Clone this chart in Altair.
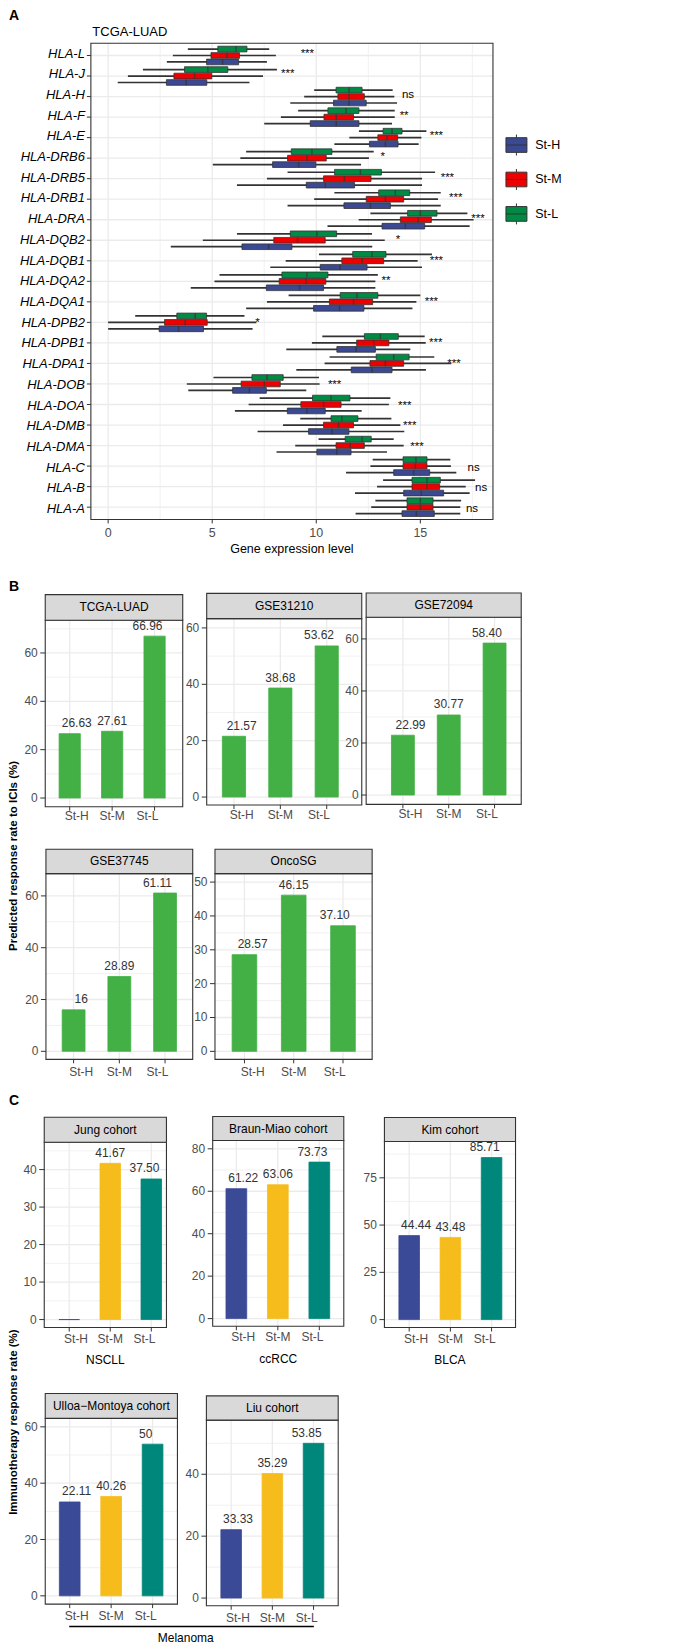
import altair as alt
import pandas as pd

FONT = "Liberation Sans"
GRID = "#EBEBEB"
DARK = "#333333"
AXT = "#4D4D4D"

# ---------------- Panel A data (TCGA-LUAD HLA expression) ----------------
genes = ["HLA-L", "HLA-J", "HLA-H", "HLA-F", "HLA-E", "HLA-DRB6", "HLA-DRB5", "HLA-DRB1",
         "HLA-DRA", "HLA-DQB2", "HLA-DQB1", "HLA-DQA2", "HLA-DQA1", "HLA-DPB2", "HLA-DPB1",
         "HLA-DPA1", "HLA-DOB", "HLA-DOA", "HLA-DMB", "HLA-DMA", "HLA-C", "HLA-B", "HLA-A"]
groups = ["St-H", "St-M", "St-L"]
box_colors = ["#3B4992", "#EE0000", "#008B45"]

sth_lo = [2.82, 0.46, 8.75, 7.50, 10.87, 5.03, 6.19, 8.62, 10.54, 3.01, 7.79, 3.97, 6.63, 0.00, 8.56, 9.04, 3.85, 6.09, 7.18, 8.09, 11.43, 11.86, 11.89]
sth_q1 = [4.73, 2.80, 10.83, 9.71, 12.56, 7.90, 9.52, 11.33, 13.16, 6.43, 10.19, 7.60, 9.87, 2.45, 10.99, 11.68, 5.98, 8.61, 9.63, 10.03, 13.72, 14.20, 14.12]
sth_med = [5.50, 3.75, 11.57, 10.96, 13.32, 9.15, 10.43, 12.60, 14.28, 7.71, 11.15, 9.20, 11.12, 3.38, 11.91, 12.68, 6.79, 9.55, 10.75, 10.99, 14.68, 15.05, 14.81]
sth_q3 = [6.27, 4.74, 12.40, 12.05, 13.93, 9.98, 11.84, 13.56, 15.21, 8.83, 12.44, 10.35, 12.29, 4.58, 12.84, 13.64, 7.60, 10.43, 11.57, 11.67, 15.45, 16.12, 15.67]
sth_hi = [7.63, 6.79, 13.88, 13.64, 14.92, 12.15, 15.08, 15.98, 17.37, 12.69, 15.08, 12.84, 14.62, 6.94, 14.52, 15.27, 9.52, 12.18, 14.23, 13.40, 16.73, 17.37, 16.92]

stm_lo = [3.11, 0.95, 9.42, 8.30, 11.59, 6.35, 7.63, 9.90, 12.04, 4.55, 8.53, 5.11, 7.63, 0.00, 9.79, 10.40, 3.78, 6.75, 8.40, 8.99, 12.60, 12.92, 12.64]
stm_q1 = [4.94, 3.16, 11.04, 10.37, 12.96, 8.62, 10.35, 12.40, 14.04, 7.96, 11.23, 8.22, 10.63, 2.71, 11.94, 12.58, 6.39, 9.26, 10.35, 10.95, 14.17, 14.60, 14.36]
stm_med = [5.71, 4.15, 11.57, 10.96, 13.40, 9.55, 11.35, 13.32, 14.89, 9.10, 12.20, 9.50, 11.79, 3.70, 12.76, 13.32, 7.50, 10.35, 11.07, 11.63, 14.76, 15.32, 15.00]
stm_q3 = [6.31, 4.98, 12.31, 11.79, 13.91, 10.48, 12.63, 14.20, 15.53, 10.43, 13.24, 10.46, 12.71, 4.76, 13.49, 14.20, 8.27, 11.19, 11.79, 12.31, 15.32, 15.93, 15.61]
stm_hi = [8.06, 7.44, 13.75, 13.77, 15.05, 12.53, 15.08, 15.85, 17.56, 13.29, 14.87, 12.84, 14.81, 7.12, 15.26, 16.49, 10.16, 13.49, 14.04, 14.20, 16.47, 17.18, 16.92]

stl_lo = [3.83, 1.67, 9.90, 9.13, 12.05, 6.63, 8.62, 10.87, 12.60, 6.19, 10.13, 5.35, 8.67, 1.30, 10.29, 10.64, 5.06, 7.28, 9.23, 10.11, 12.71, 13.21, 12.84]
stl_q1 = [5.27, 3.67, 10.95, 10.56, 13.21, 8.80, 10.88, 13.00, 14.39, 8.75, 11.75, 8.35, 11.15, 3.30, 12.31, 12.88, 6.91, 9.82, 10.71, 11.39, 14.17, 14.60, 14.36]
stl_med = [6.14, 4.79, 11.57, 11.43, 13.64, 9.79, 12.12, 13.80, 15.00, 10.03, 12.68, 9.55, 11.95, 4.18, 13.08, 13.72, 7.63, 10.71, 11.23, 12.20, 14.79, 15.32, 15.00]
stl_q3 = [6.67, 5.75, 12.20, 12.05, 14.12, 10.75, 13.13, 14.49, 15.80, 10.98, 13.35, 10.56, 12.96, 4.73, 13.94, 14.46, 8.41, 11.62, 12.00, 12.64, 15.32, 15.96, 15.61]
stl_hi = [7.74, 8.11, 13.67, 13.77, 15.29, 12.76, 15.71, 15.98, 17.26, 12.68, 15.56, 12.96, 15.00, 6.55, 15.21, 15.67, 10.13, 13.56, 13.61, 13.72, 16.44, 17.63, 16.96]

sig_text = ["***", "***", "ns", "**", "***", "*", "***", "***", "***", "*", "***", "**", "***",
            "*", "***", "***", "***", "***", "***", "***", "ns", "ns", "ns"]
sig_pos = [9.57, 8.63, 14.41, 14.22, 15.77, 13.19, 16.30, 16.70, 17.77, 13.93, 15.77, 13.35, 15.53,
           7.18, 15.74, 16.62, 10.88, 14.25, 14.49, 14.84, 17.56, 17.92, 17.48]
a_ticks = [0, 5, 10, 15]
a_minor = [2.5, 7.5, 12.5, 17.5]

# ---------------- Panel B / C data ----------------
cats = ["St-H", "St-M", "St-L"]
pred_green = ["#42B045", "#42B045", "#42B045"]
imm_colors = ["#3B4A96", "#F5BC1C", "#00877B"]

tcga_vals = [26.63, 27.61, 66.96]; tcga_labs = ["26.63", "27.61", "66.96"]
g31210_vals = [21.57, 38.68, 53.62]; g31210_labs = ["21.57", "38.68", "53.62"]
g72094_vals = [22.99, 30.77, 58.40]; g72094_labs = ["22.99", "30.77", "58.40"]
g37745_vals = [16.0, 28.89, 61.11]; g37745_labs = ["16", "28.89", "61.11"]
oncosg_vals = [28.57, 46.15, 37.10]; oncosg_labs = ["28.57", "46.15", "37.10"]

jung_vals = [0.0, 41.67, 37.50]; jung_labs = ["", "41.67", "37.50"]
braun_vals = [61.22, 63.06, 73.73]; braun_labs = ["61.22", "63.06", "73.73"]
kim_vals = [44.44, 43.48, 85.71]; kim_labs = ["44.44", "43.48", "85.71"]
ulloa_vals = [33.33, 35.29, 53.85]; ulloa_labs = ["22.11", "40.26", "50"]
liu_vals = [22.11, 40.26, 50.0]; liu_labs = ["33.33", "35.29", "53.85"]

one = pd.DataFrame({"k": [0]})
layers = []
FS = 12  # font size used in panels B and C


def txt(x, y, text, size=11, color="black", align="center", weight="normal", angle=0,
        style="normal", baseline="middle"):
    kw = dict(text=text, fontSize=size, color=color, align=align, fontWeight=weight,
              baseline=baseline, fontStyle=style)
    if angle:
        kw["angle"] = angle
    return alt.Chart(one).mark_text(**kw).encode(x=alt.value(x), y=alt.value(y))


def rect(x0, x1, y0, y1, **kw):
    return alt.Chart(one).mark_rect(**kw).encode(
        x=alt.value(x0), x2=alt.value(x1), y=alt.value(y0), y2=alt.value(y1))


# ================= Panel A =================
A_x0, A_x1, A_y0, A_y1 = 82, 484.7, 33, 510


def AX(f):
    return alt.X(f, scale=alt.Scale(domain=[-0.83, 18.49], range=[A_x0, A_x1], nice=False, zero=False), axis=None)


def AY(f="gene:N"):
    return alt.Y(f, scale=alt.Scale(domain=genes, range=[A_y0, A_y1], paddingInner=0.095, paddingOuter=0.1475), axis=None)


def AOFF():
    return alt.YOffset("group:N", scale=alt.Scale(domain=["St-L", "St-M", "St-H"], paddingInner=0.12, paddingOuter=0))


rows = []
for g, lo, q1, md, q3, hi in [("St-H", sth_lo, sth_q1, sth_med, sth_q3, sth_hi),
                              ("St-M", stm_lo, stm_q1, stm_med, stm_q3, stm_hi),
                              ("St-L", stl_lo, stl_q1, stl_med, stl_q3, stl_hi)]:
    for i, gene in enumerate(genes):
        rows.append(dict(gene=gene, group=g, lo=lo[i], q1=q1[i], med=md[i], q3=q3[i], hi=hi[i]))
box_df = pd.DataFrame(rows)
gene_df = pd.DataFrame({"gene": genes})
xt_df = pd.DataFrame({"v": a_ticks, "t": [str(v) for v in a_ticks]})

layers.append(alt.Chart(pd.DataFrame({"v": a_minor})).mark_rule(color=GRID, strokeWidth=0.7).encode(
    x=AX("v:Q"), y=alt.value(A_y0), y2=alt.value(A_y1)))
layers.append(alt.Chart(xt_df).mark_rule(color=GRID, strokeWidth=1.3).encode(
    x=AX("v:Q"), y=alt.value(A_y0), y2=alt.value(A_y1)))
layers.append(alt.Chart(gene_df).mark_rule(color=GRID, strokeWidth=1.3).encode(
    y=AY(), x=alt.value(A_x0), x2=alt.value(A_x1)))
layers.append(alt.Chart(box_df).mark_rule(color=DARK, strokeWidth=1.7).encode(
    x=AX("lo:Q"), x2="hi:Q", y=AY(), yOffset=AOFF()))
layers.append(alt.Chart(box_df).mark_bar(stroke=DARK, strokeWidth=0.8).encode(
    x=AX("q1:Q"), x2="q3:Q", y=AY(), yOffset=AOFF(),
    color=alt.Color("group:N", scale=alt.Scale(domain=groups, range=box_colors), legend=None)))
layers.append(alt.Chart(box_df).mark_tick(color=DARK, thickness=1.5, size=5.5).encode(
    x=AX("med:Q"), y=AY(), yOffset=AOFF()))
sig_df = pd.DataFrame({"gene": genes, "pos": sig_pos, "sig": sig_text})
layers.append(alt.Chart(sig_df).mark_text(fontSize=11.5, color="black").encode(
    x=AX("pos:Q"), y=AY(), text="sig:N"))
layers.append(rect(A_x0, A_x1, A_y0, A_y1, filled=False, stroke=DARK, strokeWidth=1.1))
layers.append(alt.Chart(gene_df).mark_rule(color=DARK).encode(
    y=AY(), x=alt.value(A_x0 - 4), x2=alt.value(A_x0)))
layers.append(alt.Chart(gene_df).mark_text(align="right", fontStyle="italic", fontSize=13, color="black").encode(
    y=AY(), x=alt.value(A_x0 - 6), text="gene:N"))
layers.append(alt.Chart(xt_df).mark_rule(color=DARK).encode(
    x=AX("v:Q"), y=alt.value(A_y1), y2=alt.value(A_y1 + 4)))
layers.append(alt.Chart(xt_df).mark_text(fontSize=12.5, color=AXT).encode(
    x=AX("v:Q"), y=alt.value(A_y1 + 14), text="t:N"))
layers.append(txt((A_x0 + A_x1) / 2, 540, "Gene expression level", size=12.5))
layers.append(txt(A_x0 + 1.5, 21.7, "TCGA-LUAD", size=13, align="left"))
layers.append(txt(0, 6, "A", size=14, align="left", weight="bold"))

# legend
KEY = "M-1,-0.7H1V0.7H-1Z M-1,0H1 M0,-1V-0.7 M0,0.7V1"
leg = pd.DataFrame({"group": groups})
LY = alt.Y("group:N", scale=alt.Scale(type="point", domain=groups, range=[135, 204], padding=0), axis=None)
layers.append(alt.Chart(leg).mark_point(shape=KEY, size=441, filled=True, stroke=DARK, strokeWidth=1, opacity=1).encode(
    x=alt.value(508.2), y=LY,
    fill=alt.Fill("group:N", scale=alt.Scale(domain=groups, range=box_colors), legend=None)))
layers.append(alt.Chart(leg).mark_text(align="left", fontSize=12.5).encode(
    x=alt.value(527), y=LY, text="group:N"))


# ================= Bar panels =================
def bar_panel(title, vals, labs, colors, x0, x1, st, yt, yb, dom, major, minor, cH, cL,
              sub=None, xlab_dy=10.5):
    s = (cL - cH) / 2.0
    xr = [cH - s / 4.0, cL + s / 4.0]

    def X():
        return alt.X("cat:N", scale=alt.Scale(domain=cats, range=xr, paddingInner=0.5, paddingOuter=0), axis=None)

    def Y(f):
        return alt.Y(f, scale=alt.Scale(domain=dom, range=[yb, yt], nice=False, zero=False), axis=None)

    df = pd.DataFrame({"cat": cats, "val": vals, "lab": labs})
    cdf = pd.DataFrame({"cat": cats})
    mj = pd.DataFrame({"v": major, "t": [("%g" % v) for v in major]})
    mn = pd.DataFrame({"v": minor})
    L = []
    L.append(alt.Chart(mn).mark_rule(color=GRID, strokeWidth=0.7).encode(
        y=Y("v:Q"), x=alt.value(x0), x2=alt.value(x1)))
    L.append(alt.Chart(mj).mark_rule(color=GRID, strokeWidth=1.3).encode(
        y=Y("v:Q"), x=alt.value(x0), x2=alt.value(x1)))
    L.append(alt.Chart(cdf).mark_rule(color=GRID, strokeWidth=1.3).encode(
        x=X(), y=alt.value(yt), y2=alt.value(yb)))
    L.append(alt.Chart(df).mark_bar(strokeWidth=0.8).encode(
        x=X(), y=Y("val:Q"), y2=alt.datum(0),
        fill=alt.Fill("cat:N", scale=alt.Scale(domain=cats, range=colors), legend=None),
        stroke=alt.Stroke("cat:N", scale=alt.Scale(domain=cats, range=colors), legend=None)))
    L.append(alt.Chart(df).mark_text(fontSize=FS, color=DARK, dy=-10.5).encode(
        x=X(), y=Y("val:Q"), text="lab:N"))
    L.append(rect(x0, x1, yt, yb, filled=False, stroke=DARK, strokeWidth=1.1))
    L.append(rect(x0, x1, st, yt, fill="#D9D9D9", stroke=DARK, strokeWidth=1.1))
    L.append(txt((x0 + x1) / 2, (st + yt) / 2, title, size=FS))
    L.append(alt.Chart(mj).mark_rule(color=DARK).encode(
        y=Y("v:Q"), x=alt.value(x0 - 5), x2=alt.value(x0)))
    L.append(alt.Chart(mj).mark_text(fontSize=FS, color=AXT, align="right").encode(
        y=Y("v:Q"), x=alt.value(x0 - 7.5), text="t:N"))
    L.append(alt.Chart(cdf).mark_rule(color=DARK).encode(
        x=X(), y=alt.value(yb), y2=alt.value(yb + 4)))
    L.append(alt.Chart(cdf).mark_text(fontSize=FS, color=AXT).encode(
        x=X(), y=alt.value(yb + xlab_dy), text="cat:N"))
    if sub:
        L.append(txt((x0 + x1) / 2, yb + 33, sub, size=FS))
    return L


# Panel B
layers += bar_panel("TCGA-LUAD", tcga_vals, tcga_labs, pred_green, 36.3, 174, 585.3, 611, 797.7,
                    [-3.6, 73.5], [0, 20, 40, 60], [10, 30, 50, 70], 60.8, 145.8, xlab_dy=9.5)
layers += bar_panel("GSE31210", g31210_vals, g31210_labs, pred_green, 198, 353.3, 584, 609.3, 796,
                    [-2.83, 63.3], [0, 20, 40, 60], [10, 30, 50], 225.3, 318.2, xlab_dy=9.5)
layers += bar_panel("GSE72094", g72094_vals, g72094_labs, pred_green, 357.7, 513, 583.7, 608, 795.3,
                    [-3.57, 68.3], [0, 20, 40, 60], [10, 30, 50], 394.5, 486.3, xlab_dy=9.5)
layers += bar_panel("GSE37745", g37745_vals, g37745_labs, pred_green, 37, 184, 840.3, 864.7, 1050.7,
                    [-3.1, 68.6], [0, 20, 40, 60], [10, 30, 50], 64.7, 156.3, xlab_dy=12.5)
layers += bar_panel("OncoSG", oncosg_vals, oncosg_labs, pred_green, 206.3, 363.7, 840.3, 864.7, 1050.7,
                    [-2.36, 52.5], [0, 10, 20, 30, 40, 50], [5, 15, 25, 35, 45], 235.8, 334.5, xlab_dy=12.5)
layers.append(txt(0, 578, "B", size=14, align="left", weight="bold"))
layers.append(txt(5.5, 847, "Predicted response rate to ICIs (%)", size=11.5, weight="bold", angle=270))

# Panel C
layers += bar_panel("Jung cohort", jung_vals, jung_labs, imm_colors, 35.3, 157.7, 1108.7, 1133.7, 1319.3,
                    [-2.13, 47.3], [0, 10, 20, 30, 40], [5, 15, 25, 35, 45], 60.3, 142.5, sub="NSCLL", xlab_dy=11)
layers += bar_panel("Braun-Miao cohort", braun_vals, braun_labs, imm_colors, 204, 335.3, 1108, 1132, 1318,
                    [-3.6, 83.9], [0, 20, 40, 60, 80], [10, 30, 50, 70], 227.7, 310.8, sub="ccRCC", xlab_dy=11)
layers += bar_panel("Kim cohort", kim_vals, kim_labs, imm_colors, 376, 507.3, 1109, 1133, 1319.3,
                    [-4.2, 94.2], [0, 25, 50, 75], [12.5, 37.5, 62.5, 87.5], 400.8, 483.3, sub="BLCA", xlab_dy=11)
layers += bar_panel("Ulloa\u2212Montoya cohort", ulloa_vals, ulloa_labs, imm_colors, 36.3, 168.7, 1385.3, 1410.3, 1596.3,
                    [-2.94, 63], [0, 20, 40, 60], [10, 30, 50], 60.8, 143.8, xlab_dy=12)
layers += bar_panel("Liu cohort", liu_vals, liu_labs, imm_colors, 197.7, 329.7, 1387.7, 1412, 1598,
                    [-2.5, 57.5], [0, 20, 40], [10, 30, 50], 222.5, 305, xlab_dy=12)
layers.append(txt(0, 1092, "C", size=14, align="left", weight="bold"))
layers.append(txt(5.5, 1414, "Immunotherapy response rate (%)", size=11.5, weight="bold", angle=270))
layers.append(alt.Chart(one).mark_rule(color="black", strokeWidth=1.6).encode(
    x=alt.value(60.3), x2=alt.value(305.3), y=alt.value(1618.7)))
layers.append(txt(177, 1630, "Melanoma", size=FS))

chart = alt.layer(*layers).resolve_scale(
    x="independent", y="independent", color="independent", fill="independent",
    stroke="independent", yOffset="independent"
).properties(width=658, height=1628, padding=0, background="white").configure(
    font=FONT).configure_view(strokeWidth=0)

chart.save("out.html", embed_options={"renderer": "svg", "actions": False})
